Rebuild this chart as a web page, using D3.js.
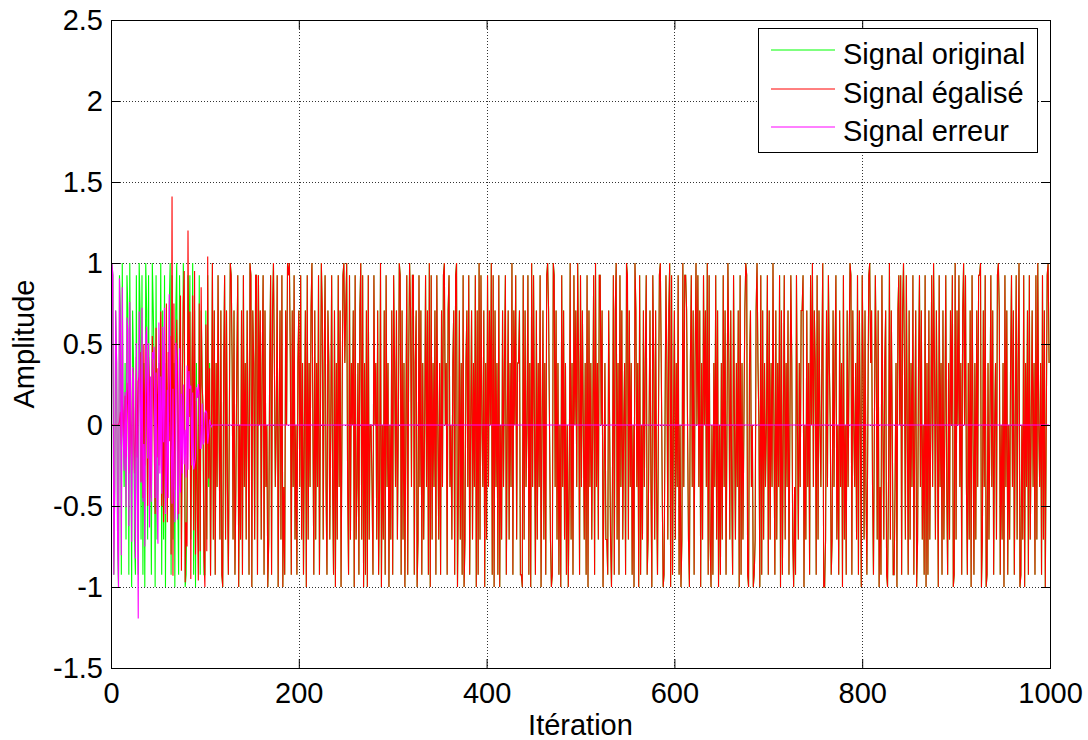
<!DOCTYPE html>
<html>
<head>
<meta charset="utf-8">
<script src="https://cdn.jsdelivr.net/npm/d3@7"></script>
<style>
  body { margin: 0; background: #fff; }
  text { font-family: "Liberation Sans", Arial, sans-serif; fill: #000; }
</style>
</head>
<body>
<svg id="chart" width="1088" height="740"></svg>
<script>
// Amplitude levels of the transmitted symbols (real part of 16-PSK)
const levels = [1, 0.924, 0.707, 0.383, 0, -0.383, -0.707, -0.924, -1];

// Transmitted symbol sequence, one digit per iteration = index into `levels`
const symbolRows = [
  "6017523681 2704536127 0482367157 0261738026 1547023816 5340726183 5420716382 0571364028 7513164072 8356172347",
  "7261537406 2735146278 3162574013 6275318462 7153624701 8236117142 6317254863 1720354184 2618572401 0372516473",
  "2516374281 6352047263 5174026315 7236415728 3615284103 2057163428 1653720618 3728164457 1436275084 6271538462",
  "7135264017 2638417302 5117328615 2736415270 8163527146 3725104372 1546327108 5263718632 5174263518 2706145283",
  "6152407182 5371846253 1742635072 4163327781 6254173805 1472635184 2637102468 7015263748 1526374850 6371425037",
  "1524637182 5364170536 1142853667 2468517206 3715264370 1625374802 5381746253 1764258136 2574103587 4136208174",
  "2635174860 5112468315 2730415283 6142507168 4735162847 3615274036 2571463528 1736420178 3254876203 4817263541",
  "7263504726 3518274163 5274136857 1463522184 6253714052 3716245308 8625134762 5316472538 1647253017 2453617248",
  "1362574103 2574136285 7146327850 6247753821 4172036147 2635174286 3152647183 7264150362 4815372641 5736241870",
  "6241537204 1573628147 3625110862 5187364152 7436102746 3815274631 5274163087 4618352716 4253716045 3716284103"
];

// Equalizer output during the convergence phase (afterwards it follows the symbols)
const equalizedHead = [
  0, 0, 0, 0, 0, 0, 0, 0, 0, 0.02,
  0.08, -0.12, 0.15, 0.06, -0.1, 0.18, -0.2, 0.26, 0.12, -0.3,
  0.24, -0.05, -0.28, 0.35, 0.1, -0.3, -0.1, 0.42, -0.2, 0.27,
  0.3, 0.45, -0.35, 0.2, -0.45, 0.5, -0.25, 0.45, 0.1, -0.5,
  0.42, 0.25, -0.3, -0.45, 0.55, 0.3, -0.1, -0.55, 0.6, -0.2,
  0.35, -0.25, 0.3, 0.7, -0.5, 0.1, -0.6, 0.2, -0.45, 0.75,
  -0.6, 0.45, -0.1, 0.55, -0.8, 1.41, -0.93, 0.75, -0.4, 0.2,
  0.65, 0.2, -0.55, 0.45, 0.8, -0.9, 0.3, 0.75, 0.95, -0.97,
  -0.6, -0.75, 1.2, 0.05, 0.7, -0.95, 0.25, 0.8, -0.65, 0.95,
  -0.8, 0.15, -0.55, -0.96, 0.75, -0.78, 0.85, 0.25, 0.12, -0.82,
  -1.0, 0.62, -0.78, 1.04, -0.33, 0.35, -0.93, 0.01, 1.0, -0.707
];

// Error signal during the convergence phase (afterwards it stays at zero)
const errorHead = [
  -0.707, 1, 0.924, -0.924, -0.383, 0.707, 0.383, -0.707, -1, 0.904,
  0.627, -0.804, 0.85, -0.06, -0.283, 0.203, -0.507, 0.664, 0.587, -0.624,
  0.76, 0.05, -0.72, 0.357, 0.283, -0.407, -0.824, 0.504, -0.183, -1.194,
  0.7, 0.257, -0.357, 0.724, -0.474, -0.117, -0.75, 0.55, 0.607, -0.207,
  0.504, -0.633, 0.3, -0.474, 0.45, 0.407, 0.483, -0.45, 0.324, -0.507,
  -0.733, 0.633, -0.3, 0.3, -0.424, 0.607, -0.107, 0.724, -0.55, -0.367,
  0.217, -0.45, 0.807, 0.45, -0.124, -0.486, 0.223, -0.367, -0.6, 0.507,
  0.35, -0.583, -0.374, 0.474, -0.417, 0.193, -0.3, 0.25, -0.243, -0.03,
  -0.324, 0.367, -0.276, 0.333, 0.224, 0.243, -0.25, 0.2, -0.274, -0.243,
  -0.2, 0.233, 0.167, 0.253, 0.174, -0.144, -0.143, 0.133, -0.12, -0.104,
  0.076, 0.087, 0.073, -0.116, -0.053, 0.033, 0.006, -0.01, 0, 0
];

const xTicks = [0, 200, 400, 600, 800, 1000];
const xTickLabels = ["0", "200", "400", "600", "800", "1000"];
const yTicks = [-1.5, -1, -0.5, 0, 0.5, 1, 1.5, 2, 2.5];
const yTickLabels = ["-1.5", "-1", "-0.5", "0", "0.5", "1", "1.5", "2", "2.5"];

const seriesNames = ["Signal original", "Signal égalisé", "Signal erreur"];
const seriesColors = ["#00ff00", "#ff0000", "#ff00ff"];

// ---- build series ----
const original = symbolRows.join("").replace(/\s/g, "").split("").map(c => levels[+c]);
const equalized = original.map((v, i) => i < equalizedHead.length ? equalizedHead[i] : v);
const errorSig = original.map((v, i) => i < errorHead.length ? errorHead[i] : 0);
const series = [original, equalized, errorSig];

// ---- layout ----
const svg = d3.select("#chart");
const L = 111, R = 1050, T = 20, B = 668;
const x = d3.scaleLinear().domain([0, 1000]).range([L, R]);
const y = d3.scaleLinear().domain([-1.5, 2.5]).range([B, T]);

// grid
const grid = svg.append("g").attr("stroke", "#333").attr("stroke-dasharray", "1,2").attr("stroke-width", 1);
xTicks.slice(1, -1).forEach(t => grid.append("line")
  .attr("x1", Math.round(x(t)) + 0.5).attr("x2", Math.round(x(t)) + 0.5).attr("y1", T).attr("y2", B));
yTicks.slice(1, -1).forEach(t => grid.append("line")
  .attr("y1", Math.round(y(t)) + 0.5).attr("y2", Math.round(y(t)) + 0.5).attr("x1", L).attr("x2", R));

// data
svg.append("clipPath").attr("id", "plotClip").append("rect")
  .attr("x", L).attr("y", T).attr("width", R - L).attr("height", B - T);
const line = d3.line().x((d, i) => x(i)).y(d => y(d));
const plot = svg.append("g").attr("clip-path", "url(#plotClip)");
series.forEach((s, k) => plot.append("path")
  .attr("d", line(s)).attr("fill", "none")
  .attr("stroke", seriesColors[k]).attr("stroke-width", 1.1));

// axes (ticks point inward on all four sides)
const tick = 9;
const fmtX = (d) => xTickLabels[xTicks.indexOf(d)];
const fmtY = (d) => yTickLabels[yTicks.indexOf(d)];
const ax = svg.append("g").attr("font-size", 29);
ax.append("g").attr("transform", `translate(0,${B})`)
  .call(d3.axisBottom(x).tickValues(xTicks).tickFormat(fmtX).tickSizeInner(-tick).tickSizeOuter(0).tickPadding(14));
ax.append("g").attr("transform", `translate(0,${T})`)
  .call(d3.axisTop(x).tickValues(xTicks).tickFormat("").tickSizeInner(-tick).tickSizeOuter(0));
ax.append("g").attr("transform", `translate(${L},0)`)
  .call(d3.axisLeft(y).tickValues(yTicks).tickFormat(fmtY).tickSizeInner(-tick).tickSizeOuter(0).tickPadding(8));
ax.append("g").attr("transform", `translate(${R},0)`)
  .call(d3.axisRight(y).tickValues(yTicks).tickFormat("").tickSizeInner(-tick).tickSizeOuter(0));
ax.selectAll(".domain").remove();
ax.selectAll(".tick line").attr("stroke", "#000");
ax.selectAll("text").attr("font-family", "'Liberation Sans', Arial, sans-serif").attr("font-size", 29).attr("fill", "#000");

svg.append("rect").attr("x", L + 0.5).attr("y", T + 0.5).attr("width", R - L).attr("height", B - T)
  .attr("fill", "none").attr("stroke", "#000").attr("stroke-width", 1);

// axis titles
svg.append("text").attr("x", (L + R) / 2).attr("y", 735).attr("text-anchor", "middle")
  .attr("font-size", 29).text("Itération");
svg.append("text").attr("transform", `translate(34,${(T + B) / 2}) rotate(-90)`)
  .attr("text-anchor", "middle").attr("font-size", 29).text("Amplitude");

// legend
const lg = svg.append("g");
lg.append("rect").attr("x", 758.5).attr("y", 28.5).attr("width", 279).attr("height", 124)
  .attr("fill", "#fff").attr("stroke", "#000");
const rowY = [50, 89, 127];
seriesNames.forEach((name, k) => {
  lg.append("line").attr("x1", 771).attr("x2", 835).attr("y1", rowY[k]).attr("y2", rowY[k])
    .attr("stroke", seriesColors[k]).attr("stroke-width", 1);
  lg.append("text").attr("x", 843).attr("y", rowY[k] + 13.5).attr("font-size", 29).text(name);
});
</script>
</body>
</html>
